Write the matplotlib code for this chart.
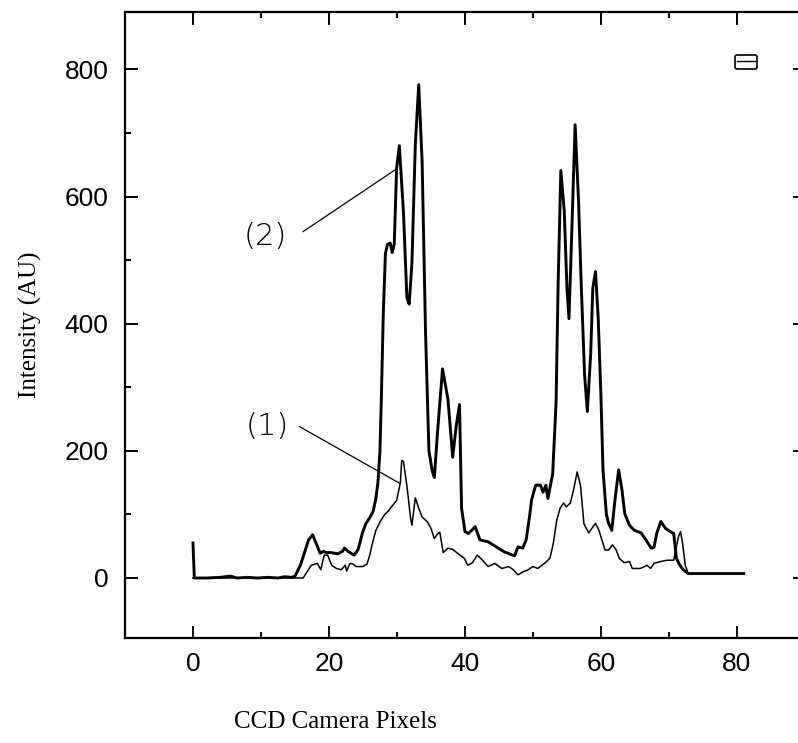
import numpy as np
import matplotlib
matplotlib.use("Agg")
import matplotlib.pyplot as plt
from matplotlib.lines import Line2D
from matplotlib.ticker import MultipleLocator

# curve (2) - thick trace
x2 = [0, 0.2, 2, 4, 5.5, 6.5, 8, 9.5, 11, 12.5, 13.5, 14.5, 15.0, 15.8, 16.4, 17.0,
      17.6, 18.1, 18.7, 19.2, 19.6, 20.3, 21.3, 22.0, 22.3, 22.8, 23.7, 24.3, 24.9,
      25.4, 26.0, 26.5, 26.9, 27.2, 27.5, 27.7, 28.0, 28.3, 28.6, 29.0, 29.3, 29.6,
      29.95, 30.35, 30.96, 31.46, 31.8, 32.2, 32.7, 33.2, 33.7, 34.2, 34.7, 35.2,
      35.5, 35.95, 36.7, 37.5, 38.2, 38.7, 39.2, 39.5, 40.0, 40.5, 41.0, 41.5, 42.2,
      43.4, 44.6, 45.8, 47.0, 47.3, 47.8, 48.5, 49.0, 49.5, 49.8, 50.4, 51.1, 51.5,
      51.9, 52.2, 52.9, 53.4, 53.7, 54.1, 54.6, 55.0, 55.3, 55.7, 56.2, 56.7, 57.1,
      57.6, 58.0, 58.5, 58.8, 59.2, 59.6, 60.0, 60.3, 60.8, 61.1, 61.6, 62.0, 62.6,
      63.1, 63.5, 64.2, 64.9, 65.9, 66.6, 67.4, 67.8, 68.2, 68.8, 69.5, 70.2, 70.7,
      71.1, 71.6, 72.1, 72.8, 81]
y2 = [55, 0, 0, 1, 3, 0, 1, 0, 1, 0, 2, 1, 3, 20, 40, 60,
      68, 55, 39, 42, 40, 40, 38, 42, 47, 42, 36, 45, 70,
      85, 95, 105, 125, 150, 200, 281, 420, 510, 525, 527, 512, 525,
      645, 680, 575, 441, 431, 495, 682, 776, 655, 388, 200, 168,
      158, 227, 329, 281, 190, 238, 273, 110, 73, 70, 75, 81, 60,
      57, 49, 41, 36, 35, 49, 47, 60, 97, 123, 146, 146, 135,
      146, 125, 164, 276, 461, 641, 578, 456, 408, 541, 713, 594, 461,
      318, 262, 355, 456, 482, 408, 286, 170, 100, 87, 75, 117, 170,
      138, 101, 83, 75, 71, 60, 47, 48, 70, 89, 78, 73, 70,
      31, 20, 13, 7, 7]

# curve (1) - thin trace
x1 = [0, 16.2, 16.8, 17.4, 18.3, 18.8, 19.3, 19.8, 20.4, 21.1, 21.8, 22.4, 22.6,
      23.1, 23.5, 24.0, 25.0, 25.6, 26.0, 26.4, 26.9, 27.6, 28.2, 28.7, 29.2, 29.95,
      30.5, 30.7, 30.96, 31.5, 32.0, 32.2, 32.7, 33.2, 33.7, 34.5, 35.0, 35.5, 36.0,
      36.3, 36.8, 37.5, 38.2, 38.9, 39.9, 40.4, 41.1, 41.8, 42.5, 43.4, 44.4, 45.4,
      46.4, 47.1, 47.8, 48.6, 49.3, 50.0, 50.7, 51.7, 52.5, 53.0, 53.5, 54.0, 54.5,
      54.9, 55.5, 56.0, 56.5, 57.0, 57.5, 58.2, 59.2, 59.7, 60.6, 61.1, 61.7, 62.2,
      62.7, 63.4, 64.2, 64.6, 65.8, 66.8, 67.3, 67.8, 68.8, 69.8, 70.7, 71.0, 71.4,
      71.7, 72.0, 72.4, 72.8, 73.2, 81]
y1 = [0, 0, 10, 20, 23, 13, 36, 36, 20, 15, 13, 20, 11,
      23, 22, 18, 18, 22, 36, 55, 75, 90, 100, 105, 112, 122,
      150, 185, 183, 142, 94, 83, 126, 110, 96, 88, 78, 62, 70,
      72, 40, 47, 45, 39, 31, 20, 24, 36, 29, 18, 23, 15,
      18, 13, 5, 10, 13, 18, 15, 23, 31, 55, 91, 110, 118,
      112, 118, 140, 167, 145, 85, 71, 86, 75, 44, 44, 52, 45,
      31, 24, 26, 15, 15, 20, 15, 23, 26, 28, 28, 44, 65,
      73, 55, 20, 8, 7, 7]

# annotation positions (data coords)
lab2_xy = (10.7, 537)
lab2_line = ([16.2, 30.0], [545, 644])
lab1_xy = (10.9, 238)
lab1_line = ([15.7, 30.4], [238, 149])

fig = plt.figure(figsize=(7.98, 7.43), dpi=100)
ax = fig.add_axes([0.1566, 0.1408, 0.8521, 0.8427])

ax.plot(x2, y2, color='black', lw=2.1)
ax.plot(x1, y1, color='black', lw=1.1)

ax.plot(*lab2_line, color='black', lw=0.9)
ax.plot(*lab1_line, color='black', lw=0.9)
ax.text(*lab2_xy, '(2)', fontsize=22, ha='center', va='center', family='DejaVu Sans', fontweight='light')
ax.text(*lab1_xy, '(1)', fontsize=22, ha='center', va='center', family='DejaVu Sans', fontweight='light')

ax.set_xlim(-10, 90)
ax.set_ylim(-95, 890)
ax.xaxis.set_major_locator(MultipleLocator(20))
ax.xaxis.set_minor_locator(MultipleLocator(10))
ax.yaxis.set_major_locator(MultipleLocator(200))
ax.yaxis.set_minor_locator(MultipleLocator(100))
ax.set_xticks([0, 20, 40, 60, 80])
ax.set_yticks([0, 200, 400, 600, 800])

ax.tick_params(which='both', direction='in', top=True, right=True, width=1.4)
ax.tick_params(which='major', length=9)
ax.tick_params(which='minor', length=4.5)
ax.tick_params(axis='x', which='major', pad=10)
ax.tick_params(axis='y', which='major', pad=12)
for lab in ax.get_xticklabels() + ax.get_yticklabels():
    lab.set_family('Liberation Sans')
    lab.set_fontsize(19)
for sp in ax.spines.values():
    sp.set_linewidth(1.6)
ax.spines['right'].set_visible(False)

leg_handle = Line2D([], [], color='black', lw=1.0)
leg = ax.legend(handles=[leg_handle], labels=[''], loc='upper right',
                bbox_to_anchor=(763 / 798, (743 - 49) / 743), bbox_transform=fig.transFigure,
                handlelength=1.6, handletextpad=0, borderpad=0.2, fancybox=True,
                edgecolor='black', framealpha=1, fontsize=8)
leg.get_frame().set_linewidth(1.2)

fig.text(30 / 798, (743 - 325) / 743, 'Intensity (AU)', rotation=90, ha='center', va='center',
         family='Liberation Serif', fontsize=18)
fig.text(335 / 798, (743 - 722) / 743, 'CCD Camera Pixels', ha='center', va='center',
         family='Liberation Serif', fontsize=18)

fig.savefig('out.png', dpi=100)
